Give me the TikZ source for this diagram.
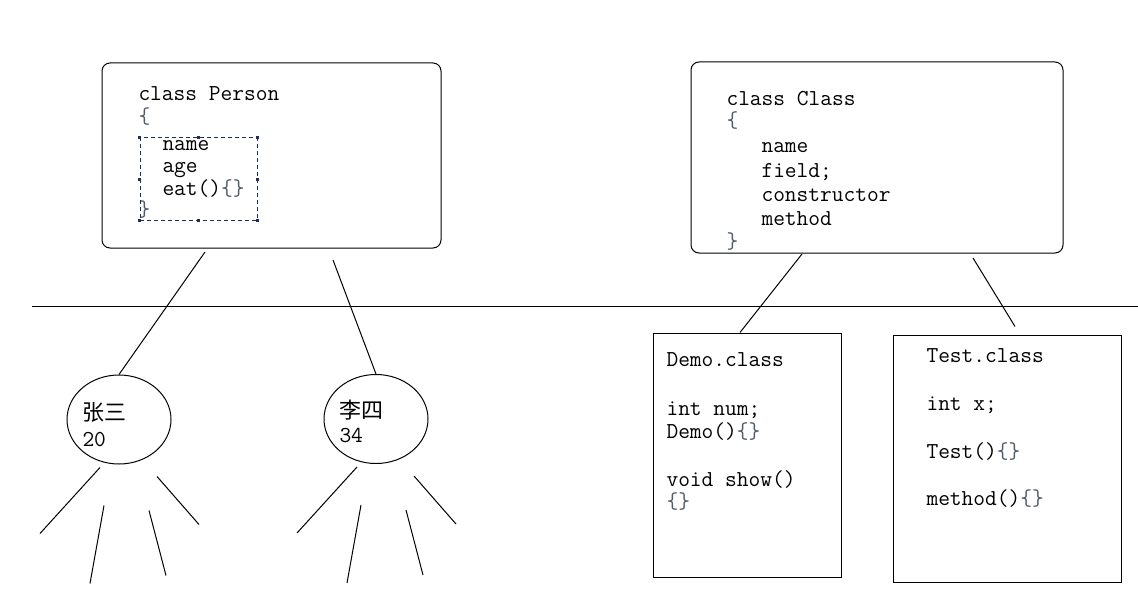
\documentclass[tikz,border=0pt]{standalone}
\usepackage{fontspec}
\newfontfamily\cjkfont{Noto Sans CJK SC}
\usetikzlibrary{shapes.geometric}
\definecolor{selblue}{RGB}{30,45,95}
\definecolor{bracegray}{RGB}{80,90,105}
\newcommand{\br}[1]{\textcolor{bracegray}{#1}}

\begin{document}
\begin{tikzpicture}[x=1pt, y=-1pt, line width=1pt,
    code/.style={anchor=base west, inner sep=0pt, font=\ttfamily\fontsize{22.8}{26}\selectfont},
    cjk/.style={anchor=base west, inner sep=0pt, font=\cjkfont\fontsize{22}{26}\selectfont},
    clsbox/.style={draw, rounded corners=8pt, inner sep=0pt},
    filebox/.style={draw, inner sep=0pt},
    objell/.style={draw, ellipse, inner sep=0pt, minimum width=104pt, minimum height=89pt}]
    \useasboundingbox (0,0) rectangle (1138,615);

    % Define boxes
    \node[clsbox, minimum width=339pt, minimum height=185pt] (person) at (271.5,155.5) {};
    \node[clsbox, minimum width=372pt, minimum height=191pt] (class) at (877,157.5) {};
    \node[filebox, minimum width=188pt, minimum height=244pt] (demo) at (747,455) {};
    \node[filebox, minimum width=228pt, minimum height=247pt] (test) at (1007,458.5) {};

    % Define objects
    \node[objell] (zs) at (119,419.5) {};
    \node[objell] (ls) at (376,419) {};
    \node[cjk] (zsname) at (82,420) {张三};
    \node[code] (zsage) at (82,446) {20};
    \node[cjk] (lsname) at (339,418) {李四};
    \node[code] (lsage) at (339,442) {34};

    % Code lines
    \foreach \x/\y/\t [count=\i] in {138/101/class Person, 138/124/\br{\{}, 162/150/name,
        162/172/age, 162/196/eat()\br{\{\}}, 138/216/\br{\}}}
        \node[code] (person\i) at (\x,\y) {\t};
    \foreach \x/\y/\t [count=\i] in {726/106/class Class, 726/128/\br{\{}, 761/153/name,
        761/177/field;, 761/201/constructor, 761/225/method, 726/248/\br{\}}}
        \node[code] (class\i) at (\x,\y) {\t};
    \foreach \x/\y/\t [count=\i] in {666/366/Demo.class, 666/415/int num;,
        666/438/Demo()\br{\{\}}, 666/486/void show(), 666/508/\br{\{\}}}
        \node[code] (demo\i) at (\x,\y) {\t};
    \foreach \x/\y/\t [count=\i] in {926/362/Test.class, 926/410/int x;,
        926/458/Test()\br{\{\}}, 926/505/method()\br{\{\}}}
        \node[code] (test\i) at (\x,\y) {\t};

    % Selection frame
    \node[draw=selblue, dash pattern=on 4pt off 3pt, inner sep=0pt,
        minimum width=117pt, minimum height=82pt] (sel) at (198.5,179) {};
    \foreach \a in {north west, north, north east, east, south east, south, south west, west}
        \fill[selblue] (sel.\a) ++(-1.5,-1.5) rectangle ++(3,3);

    % Divider
    \coordinate (divl) at (32,306);
    \coordinate (divr) at (1138,306);
    \draw (divl) -- (divr);

    % Connectors
    \coordinate (pz) at (205,252);
    \coordinate (pl) at (333,260);
    \coordinate (cd) at (802,254);
    \coordinate (ct) at (973,258);
    \draw (pz) -- (zs.north);
    \draw (pl) -- (ls.north);
    \draw (cd) -- ([xshift=-7pt]demo.north);
    \draw (ct) -- ([xshift=8pt, yshift=8pt]test.north);

    % Legs
    \foreach \o in {zs, ls} {
        \begin{scope}[shift={(\o.center)}]
            \foreach \ax/\ay/\bx/\by in {-19/48/-79/114, -15/86/-29/164, 30/91/47/156, 38/57/80/105}
                \draw (\ax,\ay) -- (\bx,\by);
        \end{scope}
    }
\end{tikzpicture}
\end{document}
